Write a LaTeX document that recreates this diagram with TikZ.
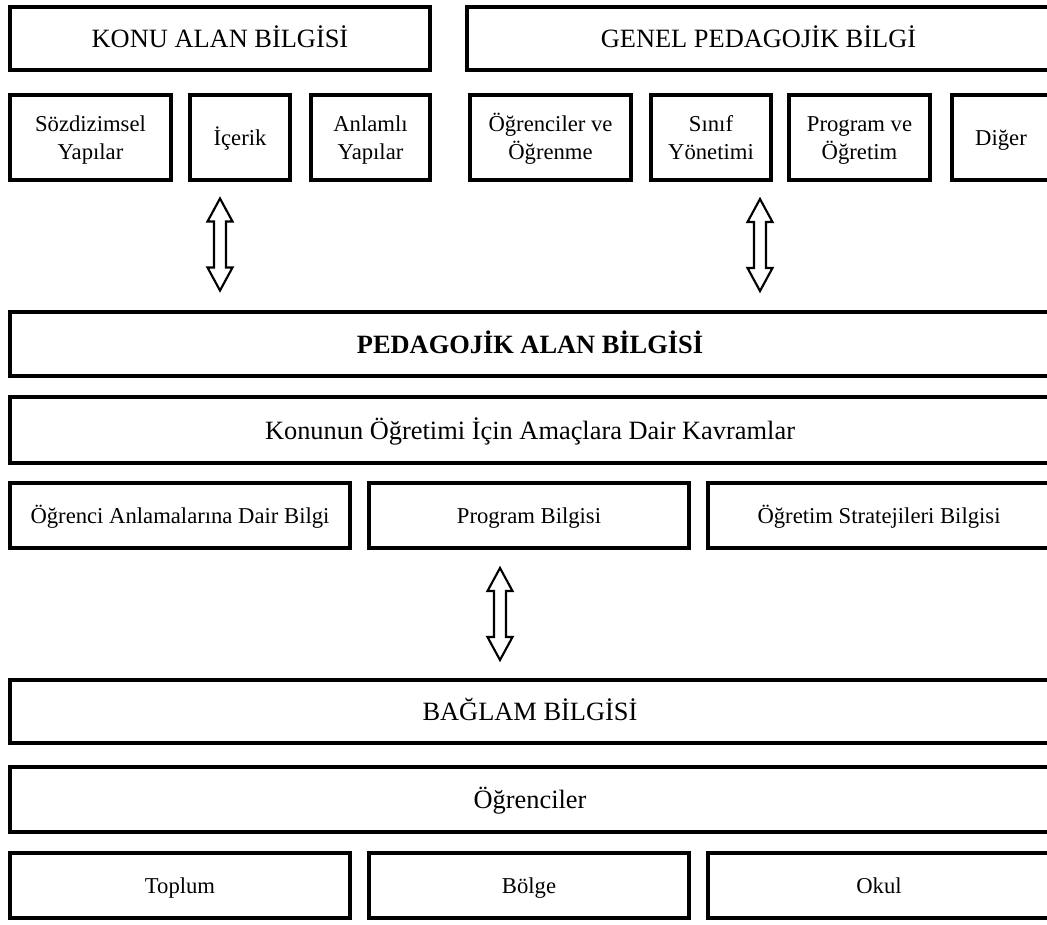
\documentclass[tikz,border=0pt]{standalone}
\usepackage{fontspec}
\setmainfont{Liberation Serif}
\usetikzlibrary{calc}

% fixed line height so every label sits at the same place in its box
\newcommand{\sst}{\rule[-0.2em]{0pt}{1.1em}}

\tikzset{
  boxst/.style={draw=black, line width=2.6pt, rectangle, inner sep=0pt, outer sep=0pt,
    align=center, font=\fontsize{17}{21}\selectfont},
  bigtext/.style={font=\fontsize{19.8}{24}\selectfont},
  arrowline/.style={draw=black, line width=1.6pt, fill=white, line join=miter},
  dblarrow/.pic={
    \path[arrowline] (0,-46) -- (12.5,-23) -- (6,-23) -- (6,23) -- (12.5,23)
      -- (0,46) -- (-12.5,23) -- (-6,23) -- (-6,-23) -- (-12.5,-23) -- cycle;
  }
}

% box given by the centre line of its border: name, x1, y1, x2, y2, text
\newcommand{\bx}[7][]{%
  \node[boxst,#1,minimum width={(#5-#3)*0.75pt},minimum height={(#6-#4)*0.75pt}]
    (#2) at ({(#3+#5)/2},{(#4+#6)/2}) {#7};}

\begin{document}
\begin{tikzpicture}[x=0.75pt,y=-0.75pt]
  \useasboundingbox (0,0) rectangle (1047,925);
  \fill[white] (0,0) rectangle (1047,925);
  \clip (0,0) rectangle (1047,925);

  % subject matter knowledge and general pedagogical knowledge
  \bx[bigtext]{konu}{10}{7}{430}{70}{\sst KONU ALAN BİLGİSİ}
  \bx[bigtext]{genel}{467}{7}{1050}{70}{\sst GENEL PEDAGOJİK BİLGİ}

  \bx{sozd}{10}{95}{171}{180}{\sst Sözdizimsel\\\sst Yapılar}
  \bx{icerik}{190}{95}{290}{180}{\sst İçerik}
  \bx{anlamli}{311}{95}{430}{180}{\sst Anlamlı\\\sst Yapılar}
  \bx{ogrenme}{470}{95}{631}{180}{\sst Öğrenciler ve\\\sst Öğrenme}
  \bx{sinif}{651}{95}{771}{180}{\sst Sınıf\\\sst Yönetimi}
  \bx{progogr}{789}{95}{930}{180}{\sst Program ve\\\sst Öğretim}
  \bx{diger}{952}{95}{1050}{180}{\sst Diğer}

  % pedagogical content knowledge
  \bx[bigtext,font=\fontsize{19.8}{24}\selectfont\bfseries]{pab}{10}{312}{1050}{376}{\sst PEDAGOJİK ALAN BİLGİSİ}
  \bx[bigtext]{amac}{10}{397}{1050}{463}{\sst Konunun Öğretimi İçin Amaçlara Dair Kavramlar}
  \bx{anlama}{10}{483}{350}{548}{\sst Öğrenci Anlamalarına Dair Bilgi}
  \bx{progb}{369}{483}{689}{548}{\sst Program Bilgisi}
  \bx{strat}{708}{483}{1050}{548}{\sst Öğretim Stratejileri Bilgisi}

  % knowledge of context
  \bx[bigtext]{baglam}{10}{680}{1050}{743}{\sst BAĞLAM BİLGİSİ}
  \bx[bigtext]{ogrenciler}{10}{767}{1050}{832}{\sst Öğrenciler}
  \bx{toplum}{10}{853}{350}{918}{\sst Toplum}
  \bx{bolge}{369}{853}{689}{918}{\sst Bölge}
  \bx{okul}{708}{853}{1050}{918}{\sst Okul}

  % two-way arrows between the knowledge domains
  \coordinate (upperlvl) at (0,244.5);
  \coordinate (lowerarr) at (500,614);
  \pic at (konu |- upperlvl) {dblarrow};
  \pic at (760,245) {dblarrow};
  \pic at (lowerarr) {dblarrow};
\end{tikzpicture}
\end{document}
